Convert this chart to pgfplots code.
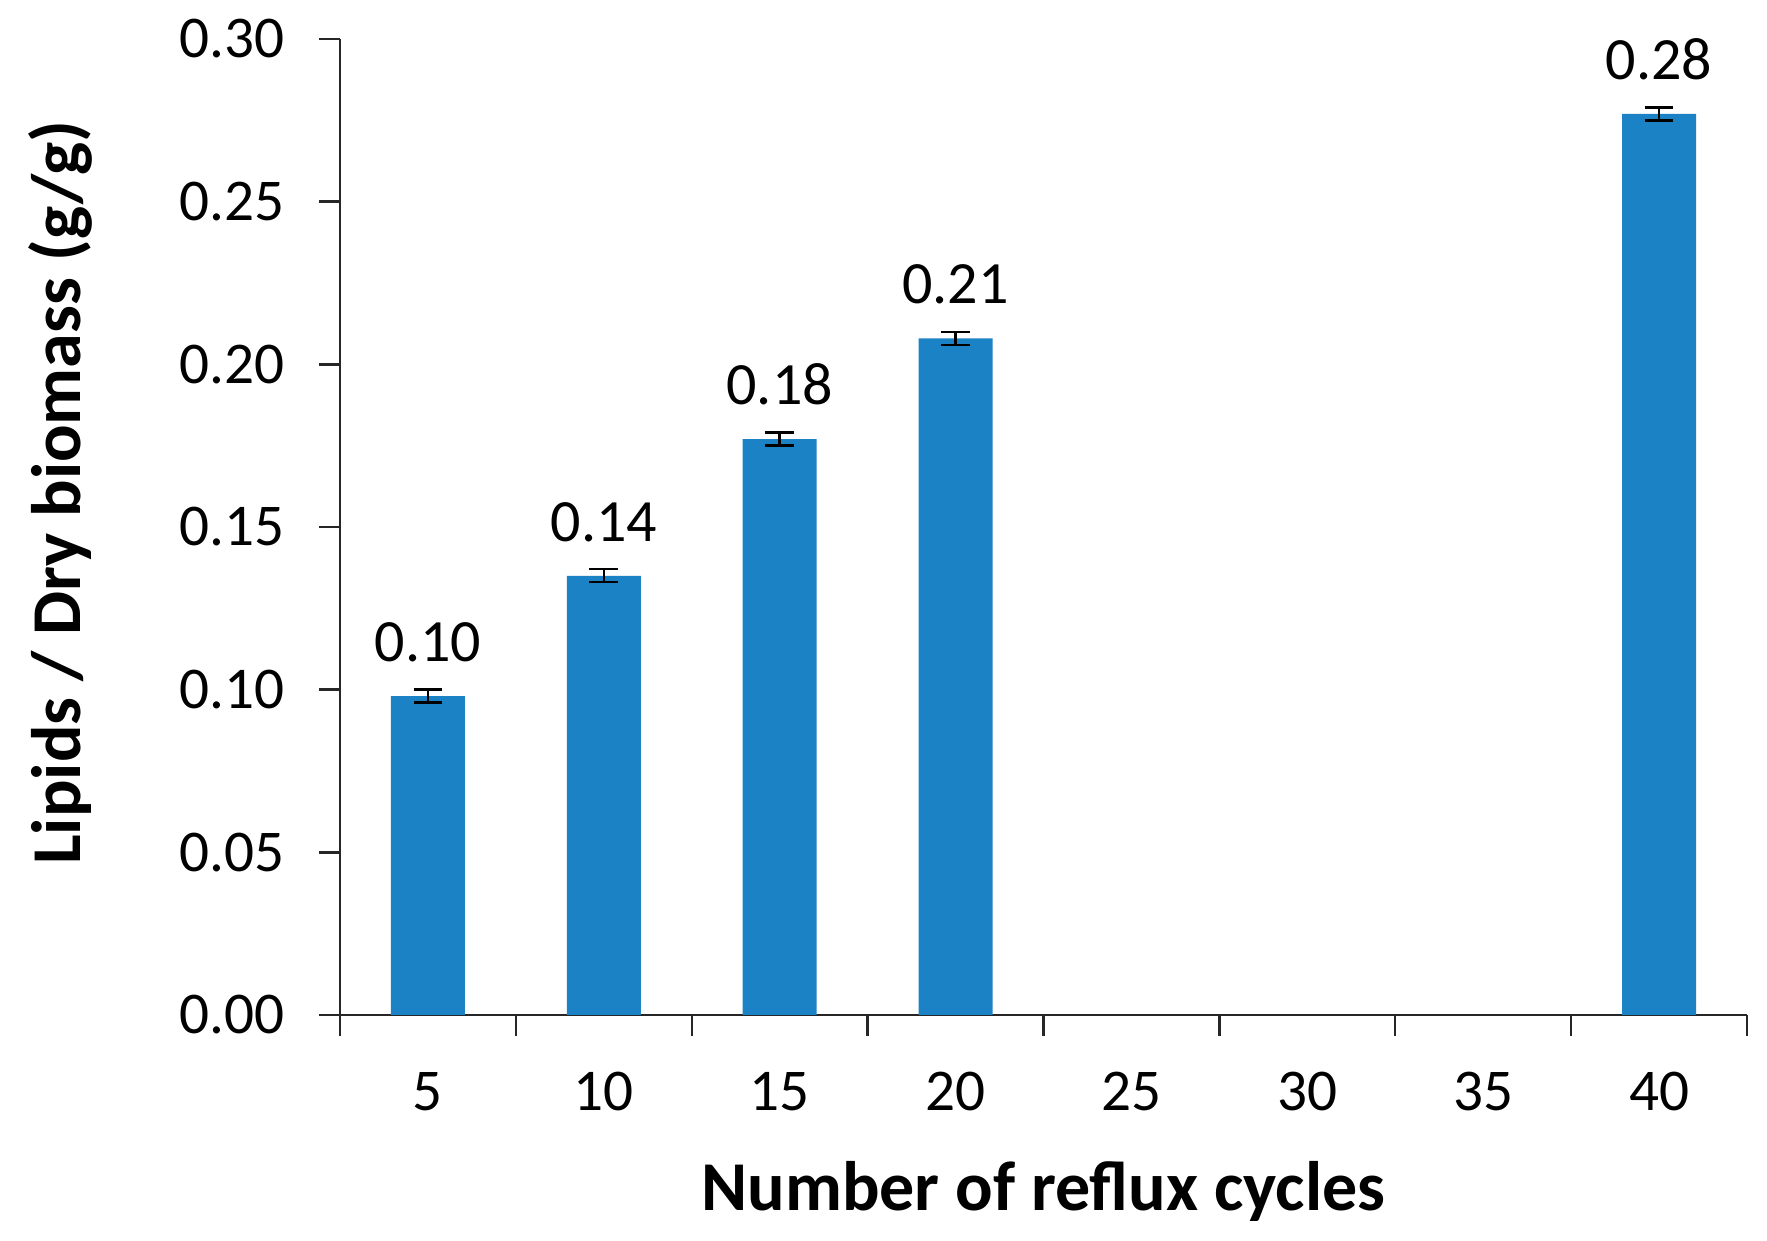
\documentclass[border=0pt]{standalone}
\usepackage{fontspec}
\setmainfont{Carlito}
\usepackage{pgfplots}
\pgfplotsset{compat=1.18}

\definecolor{barblue}{HTML}{1C82C6}
\definecolor{axisgray}{HTML}{262626}

\begin{document}
\begin{tikzpicture}
\begin{axis}[
    at={(0,0)}, anchor=south west,
    width=351.75pt, height=244pt, scale only axis,
    ybar, bar width=18.5pt,
    xmin=-0.5, xmax=7.5,
    ymin=0, ymax=0.3,
    axis x line*=bottom, axis y line*=left,
    axis line style={axisgray, line width=0.65pt},
    tick style={axisgray, line width=0.6pt},
    tick align=outside, major tick length=5.3pt,
    xtick={-0.5,0.5,...,7.5},
    x tick label as interval,
    xticklabels={5,10,15,20,25,30,35,40},
    xticklabel style={yshift=-5.5pt},
    ytick={0,0.05,...,0.3},
    yticklabel style={/pgf/number format/fixed, /pgf/number format/fixed zerofill,
                      /pgf/number format/precision=2, xshift=-5pt},
    /pgf/number format/assume math mode=true,
    ticklabel style={font=\fontsize{14.8}{17}\selectfont, text=black},
    xlabel={Number of reflux cycles},
    ylabel={Lipids / Dry biomass (g/g)},
    label style={font=\fontsize{17.5}{20}\selectfont\bfseries},
    xlabel style={at={(axis description cs:0.5,-0.2008)}, anchor=base},
    ylabel style={at={(axis description cs:-0.1990,0.535)}, anchor=center},
    nodes near coords,
    point meta=explicit symbolic,
    nodes near coords style={font=\fontsize{15}{17}\selectfont, anchor=south, yshift=5pt},
    error bars/y dir=both, error bars/y explicit,
    error bars/error mark options={rotate=90, mark size=3.6pt, line width=0.6pt, black},
    error bars/error bar style={line width=0.6pt, black},
]
\addplot[fill=barblue, draw=none] coordinates {
    (0,0.098) +- (0,0.002) [0.10]
    (1,0.135) +- (0,0.002) [0.14]
    (2,0.177) +- (0,0.002) [0.18]
    (3,0.208) +- (0,0.002) [0.21]
    (7,0.277) +- (0,0.002) [0.28]
};
\end{axis}
\pgfresetboundingbox
\path[use as bounding box] (-85pt,-56.5pt) rectangle (356.75pt,253.75pt);
\end{tikzpicture}
\end{document}
